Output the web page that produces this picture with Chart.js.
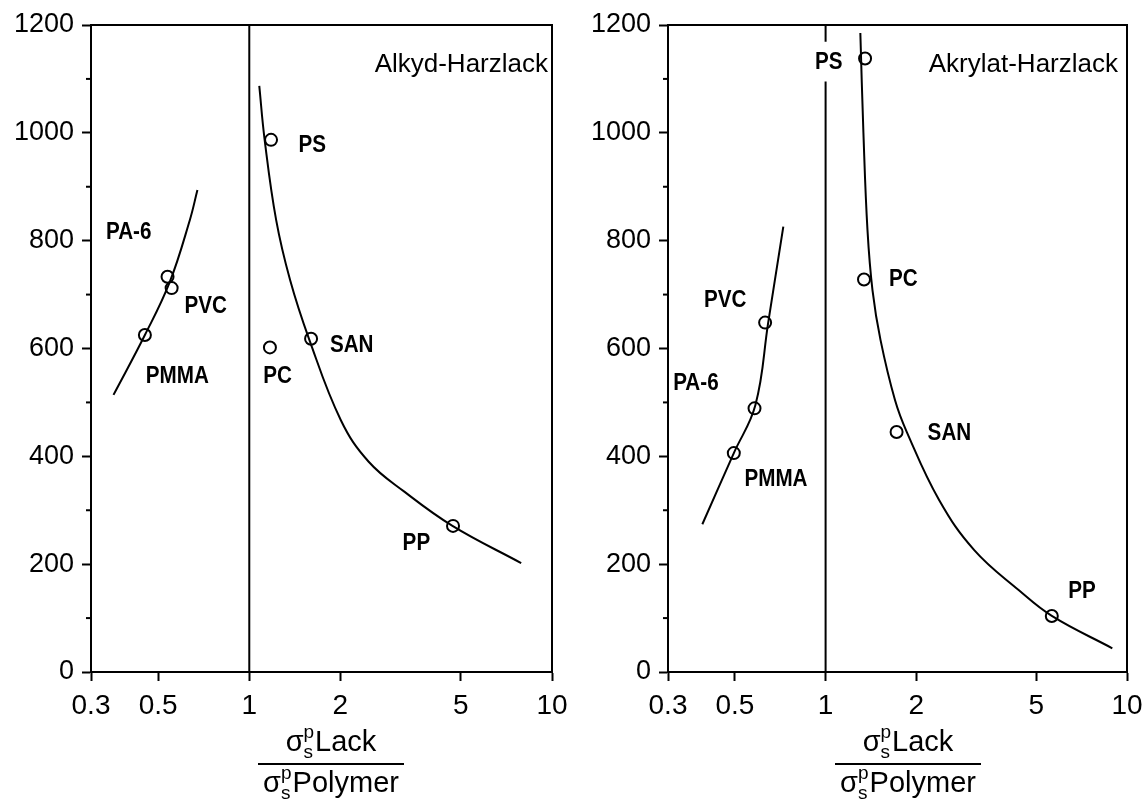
<!DOCTYPE html>
<html>
<head>
<meta charset="utf-8">
<script src="https://cdn.jsdelivr.net/npm/chart.js@4.4.0/dist/chart.umd.min.js"></script>
<style>
  html, body { margin: 0; padding: 0; background: #fff; }
  .panel { position: absolute; top: 0; height: 805px; }
  #left { left: 0; width: 573px; }
  #right { left: 573px; width: 574px; }
</style>
</head>
<body>
<div class="panel" id="left"><canvas id="chartLeft" width="573" height="805"></canvas></div>
<div class="panel" id="right"><canvas id="chartRight" width="574" height="805"></canvas></div>
<script>
// axis ticks
const xTicks = [0.3, 0.5, 1, 2, 5, 10];
const xTickLabels = ["0.3", "0.5", "1", "2", "5", "10"];
const yMajor = [0, 200, 400, 600, 800, 1000, 1200];
const yMinor = [100, 300, 500, 700, 900, 1100];

// Alkyd-Harzlack (left)
const alkydNames = ["PS", "PA-6", "PVC", "PMMA", "PC", "SAN", "PP"];
const alkydX = [1.18, 0.537, 0.554, 0.452, 1.17, 1.60, 4.71];
const alkydY = [987, 733, 712, 625, 602, 618, 271];
const alkydRiseX = [0.356, 0.452, 0.545, 0.636, 0.674];
const alkydRiseY = [514, 625, 722, 838, 894];
const alkydFallX = [1.079, 1.124, 1.227, 1.364, 1.575, 2.007, 2.48, 3.26, 4.69, 7.91];
const alkydFallY = [1087, 987, 838, 727, 618, 467, 390, 334, 271, 202];
const alkydRefX = [1, 1];
const alkydRefY = [0, 1200];
const alkydLabelX = [1.454, 0.336, 0.611, 0.455, 1.112, 1.846, 3.21];
const alkydLabelY = [977, 816, 679, 549, 549, 606, 239];

// Akrylat-Harzlack (right)
const akrylNames = ["PS", "PC", "PVC", "PA-6", "PMMA", "SAN", "PP"];
const akrylX = [1.352, 1.341, 0.630, 0.581, 0.496, 1.72, 5.63];
const akrylY = [1138, 728, 648, 489, 406, 445, 104];
const akrylRiseX = [0.390, 0.496, 0.585, 0.645, 0.724];
const akrylRiseY = [274, 406, 495, 648, 826];
const akrylFallX = [1.304, 1.335, 1.377, 1.431, 1.521, 1.70, 1.86, 2.38, 3.113, 4.37, 5.63, 8.94];
const akrylFallY = [1185, 1000, 820, 708, 616, 504, 445, 319, 226, 152, 104, 44];
const akrylRefX = [1, 1, 1, 1, 1];
const akrylRefY = [0, 1095, null, 1169, 1200];
const akrylLabelX = [1.025, 1.622, 0.395, 0.312, 0.538, 2.18, 6.38];
const akrylLabelY = [1130, 728, 690, 535, 357, 443, 149];

const FONT = "'Liberation Sans', Arial, sans-serif";
Chart.defaults.font.family = FONT;
Chart.defaults.color = "#000";

function pts(xs, ys) {
  return xs.map((x, i) => ({ x: x, y: ys[i] }));
}

function drawFraction(ctx, cx) {
  const rows = [["Lack", 751], ["Polymer", 792]];
  ctx.save();
  ctx.fillStyle = "#000";
  ctx.textBaseline = "alphabetic";
  ctx.textAlign = "left";
  rows.forEach(([word, base]) => {
    ctx.font = "29px " + FONT;
    const wSig = ctx.measureText("\u03c3").width;
    const wWord = ctx.measureText(word).width;
    ctx.font = "19px " + FONT;
    const wSub = Math.max(ctx.measureText("s").width, ctx.measureText("p").width);
    const total = wSig + wSub + 1 + wWord;
    const x0 = cx - total / 2;
    ctx.font = "29px " + FONT;
    ctx.fillText("\u03c3", x0, base);
    ctx.fillText(word, x0 + wSig + wSub + 1, base);
    ctx.font = "19px " + FONT;
    ctx.fillText("p", x0 + wSig, base - 13);
    ctx.fillText("s", x0 + wSig, base + 7);
  });
  ctx.fillRect(cx - 73, 763, 146, 2);
  ctx.restore();
}

function makeChart(id, cfg) {
  const decor = {
    id: "decor",
    afterDraw(chart) {
      const ctx = chart.ctx;
      const a = chart.chartArea;
      const xs = chart.scales.x;
      const ys = chart.scales.y;
      ctx.save();
      ctx.strokeStyle = "#000";
      ctx.lineWidth = 2;
      // top and right frame
      ctx.beginPath();
      ctx.moveTo(a.left, a.top);
      ctx.lineTo(a.right, a.top);
      ctx.lineTo(a.right, a.bottom);
      ctx.stroke();
      // minor y ticks
      yMinor.forEach(v => {
        const py = ys.getPixelForValue(v);
        ctx.beginPath();
        ctx.moveTo(a.left - 5, py);
        ctx.lineTo(a.left, py);
        ctx.stroke();
      });
      // polymer labels (narrow, heavy lettering as in the print)
      ctx.fillStyle = "#000";
      ctx.textBaseline = "middle";
      ctx.font = "bold 24px " + FONT;
      cfg.names.forEach((n, i) => {
        ctx.save();
        ctx.translate(xs.getPixelForValue(cfg.labelX[i]), ys.getPixelForValue(cfg.labelY[i]));
        ctx.scale(0.86, 1);
        ctx.textAlign = (cfg.centered === n) ? "center" : "left";
        ctx.fillText(n, 0, 0);
        ctx.restore();
      });
      // panel title
      ctx.font = "26px " + FONT;
      ctx.textAlign = "right";
      ctx.fillText(cfg.title, a.right - cfg.titleInset, ys.getPixelForValue(1126));
      ctx.restore();
      drawFraction(ctx, a.left + 240);
    }
  };

  const lineStyle = {
    showLine: true, pointRadius: 0, borderColor: "#000", borderWidth: 2,
    fill: false, tension: 0.4
  };

  return new Chart(document.getElementById(id), {
    type: "line",
    data: {
      datasets: [
        Object.assign({ data: pts(cfg.riseX, cfg.riseY) }, lineStyle),
        Object.assign({ data: pts(cfg.fallX, cfg.fallY) }, lineStyle),
        { data: pts(cfg.refX, cfg.refY), showLine: true, pointRadius: 0, borderColor: "#000",
          borderWidth: 2, tension: 0, spanGaps: false },
        { data: pts(cfg.markX, cfg.markY), showLine: false, pointRadius: 6, pointHoverRadius: 6,
          pointBorderWidth: 2, pointBorderColor: "#000", pointBackgroundColor: "rgba(0,0,0,0)" }
      ]
    },
    options: {
      responsive: false,
      animation: false,
      events: [],
      layout: { padding: { left: 0, right: cfg.padRight, top: 25, bottom: 0 } },
      plugins: { legend: { display: false }, tooltip: { enabled: false } },
      scales: {
        x: {
          type: "logarithmic",
          min: 0.3, max: 10,
          afterBuildTicks: s => { s.ticks = xTicks.map(v => ({ value: v })); },
          afterFit: s => { s.height = 133; s.paddingLeft = 0; s.paddingRight = 0; },
          ticks: {
            autoSkip: false, maxRotation: 0, padding: 8,
            font: { size: 28 }, color: "#000",
            callback: (v) => xTickLabels[xTicks.indexOf(v)]
          },
          grid: { drawOnChartArea: false, drawTicks: true, tickLength: 9, tickColor: "#000", tickWidth: 2 },
          border: { display: true, color: "#000", width: 2 }
        },
        y: {
          min: 0, max: 1200,
          afterBuildTicks: s => { s.ticks = yMajor.map(v => ({ value: v })); },
          afterFit: s => { s.width = cfg.yWidth; },
          ticks: { padding: 8, font: { size: 27 }, color: "#000", callback: (v) => String(v) },
          grid: { drawOnChartArea: false, drawTicks: true, tickLength: 9, tickColor: "#000", tickWidth: 2 },
          border: { display: true, color: "#000", width: 2 }
        }
      }
    },
    plugins: [decor]
  });
}

makeChart("chartLeft", {
  riseX: alkydRiseX, riseY: alkydRiseY, fallX: alkydFallX, fallY: alkydFallY,
  refX: alkydRefX, refY: alkydRefY, markX: alkydX, markY: alkydY,
  names: alkydNames, labelX: alkydLabelX, labelY: alkydLabelY, centered: null,
  title: "Alkyd-Harzlack", titleInset: 4, yWidth: 91, padRight: 21
});

makeChart("chartRight", {
  riseX: akrylRiseX, riseY: akrylRiseY, fallX: akrylFallX, fallY: akrylFallY,
  refX: akrylRefX, refY: akrylRefY, markX: akrylX, markY: akrylY,
  names: akrylNames, labelX: akrylLabelX, labelY: akrylLabelY, centered: "PS",
  title: "Akrylat-Harzlack", titleInset: 9, yWidth: 95, padRight: 20
});
</script>
</body>
</html>
